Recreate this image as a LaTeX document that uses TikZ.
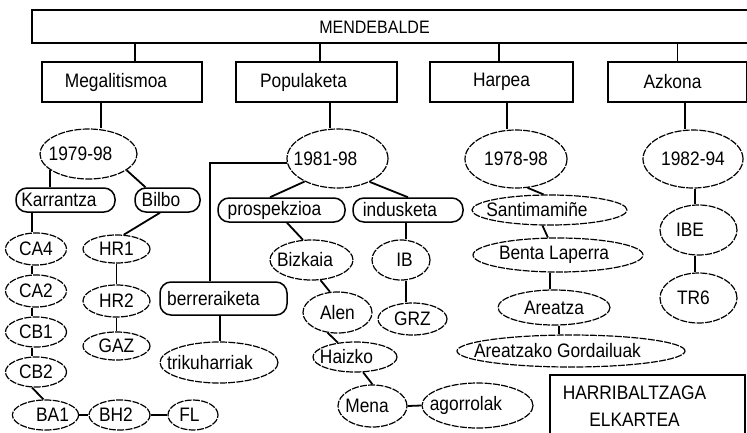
\documentclass[tikz,border=0pt]{standalone}
\usepackage{fontspec}
\setmainfont{Liberation Sans}[FakeStretch=0.89]
\usetikzlibrary{shapes.geometric}
\begin{document}
\begin{tikzpicture}[x=1pt,y=-1pt,
  every node/.style={font=\fontsize{19.5}{22}\selectfont, inner sep=0pt},
  bx/.style={draw, line width=1.5pt, rectangle},
  rbx/.style={draw, line width=1.5pt, rectangle, rounded corners=11pt},
  el/.style={draw, ellipse, line width=1.2pt, dash pattern=on 7pt off 1.3pt},
  ln/.style={line width=1.8pt}]
\useasboundingbox (0,0) rectangle (747,432);
\clip (0,0) rectangle (747,432);
% top
\node[bx, minimum width=716pt, minimum height=33pt] (mend) at (390,26.5) {};
\node (mendtxt) at (374.5,27.5) {\fontsize{18}{20}\selectfont MENDEBALDE};
\node[bx, minimum width=160pt, minimum height=40pt] (meg) at (122,82) {\hspace*{-12pt}Megalitismoa};
\node[bx, minimum width=161pt, minimum height=40pt] (pop) at (316.5,82) {\hspace*{-26pt}Populaketa};
\node[bx, minimum width=143pt, minimum height=40pt] (har) at (501.5,82) {Harpea};
\node[bx, minimum width=139pt, minimum height=40pt] (azk) at (677.5,82) {\hspace*{-10pt}Azkona};
\draw[ln] ([xshift=13pt]meg.north) -- ([xshift=13pt]meg.north |- mend.south);
\draw[ln] ([xshift=3.5pt]pop.north) -- ([xshift=3.5pt]pop.north |- mend.south);
\draw[ln] ([xshift=-2.5pt]har.north) -- ([xshift=-2.5pt]har.north |- mend.south);
\draw[ln] (azk.north) -- (azk.north |- mend.south);
% year ellipses
\node[el, minimum width=97pt, minimum height=50pt] (e1) at (88.5,154) {\hspace*{-16pt}1979-98};
\node[el, minimum width=101pt, minimum height=59pt] (e2) at (337.5,158.5) {\hspace*{-24pt}1981-98};
\node[el, minimum width=102pt, minimum height=58pt] (e3) at (516,159) {1978-98};
\node[el, minimum width=100pt, minimum height=58pt] (e4) at (693,159) {1982-94};
\draw[ln] ([xshift=-21pt]meg.south) -- ([xshift=-21pt]meg.south |- e1.north);
\draw[ln] ([xshift=13.5pt]pop.south) -- ([xshift=13.5pt]pop.south |- e2.north);
\draw[ln] ([xshift=5.5pt]har.south) -- ([xshift=5.5pt]har.south |- e3.north);
\draw[ln] ([xshift=7.5pt]azk.south) -- ([xshift=7.5pt]azk.south |- e4.north);
% Megalitismoa branch
\node[rbx, minimum width=99pt, minimum height=24pt] (kar) at (65.5,200) {\hspace*{-13pt}Karrantza};
\node[rbx, minimum width=65pt, minimum height=24pt] (bil) at (167.5,200) {\hspace*{-13pt}Bilbo};
\draw[ln] (e1.202) -- (e1.202 |- kar.north);
\draw[ln] (e1.337) -- ([xshift=-22pt]bil.north);
\node[el, minimum width=61pt, minimum height=32pt] (ca4) at (36,249) {CA4};
\node[el, minimum width=61pt, minimum height=32pt] (ca2) at (36,291) {CA2};
\node[el, minimum width=61pt, minimum height=30pt] (cb1) at (36,332) {CB1};
\node[el, minimum width=61pt, minimum height=30pt] (cb2) at (36,372) {CB2};
\node[el, minimum width=60pt, minimum height=30pt] (ba1) at (45.5,415) {\hspace*{14pt}BA1};
\node[el, minimum width=61pt, minimum height=30pt] (bh2) at (119.5,415) {\hspace*{-7pt}BH2};
\node[el, minimum width=50pt, minimum height=30pt] (fl) at (193,415) {\hspace*{-7pt}FL};
\draw[ln] ([xshift=-33.5pt]kar.south) -- ([xshift=-33.5pt]kar.south |- ca4.north);
\draw[ln] ([xshift=-4pt]ca4.south) -- ([xshift=-4pt]ca4.south |- ca2.north);
\draw[ln] ([xshift=-4pt]ca2.south) -- ([xshift=-4pt]ca2.south |- cb1.north);
\draw[ln] ([xshift=-4pt]cb1.south) -- ([xshift=-4pt]cb1.south |- cb2.north);
\draw[ln] ([xshift=-4pt]cb2.south) -- ([xshift=-2pt]ba1.north);
\draw[ln] (ba1.east) -- (bh2.west);
\draw[ln] (bh2.east) -- (fl.west);
\node[el, minimum width=67pt, minimum height=28pt] (hr1) at (116.5,249) {HR1};
\node[el, minimum width=67pt, minimum height=32pt] (hr2) at (116.5,301) {HR2};
\node[el, minimum width=67pt, minimum height=28pt] (gaz) at (116.5,346) {GAZ};
\draw[ln] ([xshift=-7.5pt]bil.south) -- (hr1.63);
\draw[ln] (hr1.south) -- (hr2.north);
\draw[ln] (hr2.south) -- (gaz.north);
% Populaketa branch
\node[rbx, minimum width=127pt, minimum height=24pt] (pro) at (281.5,210) {\hspace*{-14pt}prospekzioa};
\node[rbx, minimum width=110pt, minimum height=24pt] (ind) at (408,210) {\hspace*{-16pt}indusketa};
\node[rbx, minimum width=127pt, minimum height=33pt] (ber) at (223.5,298.5) {\hspace*{-20pt}berreraiketa};
\node[el, minimum width=118pt, minimum height=41pt] (tri) at (219,362.5) {\hspace*{-18pt}trikuharriak};
\draw[ln] (e2.215) -- ([xshift=-11.5pt]pro.north);
\draw[ln] (e2.324) -- (ind.north);
\draw[ln] (e2.185) -| ([xshift=-13.5pt]ber.north);
\draw[ln] ([xshift=-3.5pt]ber.south) -- ([xshift=-3.5pt]ber.south |- tri.north);
\node[el, minimum width=83pt, minimum height=40pt] (biz) at (311.5,260) {\hspace*{-13pt}Bizkaia};
\node[el, minimum width=58pt, minimum height=40pt] (ib) at (401,260) {\hspace*{7pt}IB};
\node[el, minimum width=69pt, minimum height=32pt] (grz) at (412.5,319) {GRZ};
\node[el, minimum width=69pt, minimum height=41pt] (alen) at (337.5,312.5) {Alen};
\node[el, minimum width=84pt, minimum height=30pt] (haiz) at (355,357) {\hspace*{-17pt}Haizko};
\node[el, minimum width=69pt, minimum height=42pt] (mena) at (372.5,406) {\hspace*{-11pt}Mena};
\node[el, minimum width=111pt, minimum height=45pt] (agor) at (477.5,405.5) {\hspace*{-23pt}agorrolak};
\draw[ln] ([xshift=5.5pt]pro.south) -- (biz.113);
\draw[ln] ([xshift=-2pt]ind.south) -- ([xshift=-2pt]ind.south |- ib.north);
\draw[ln] ([xshift=5pt]ib.south) -- ([xshift=5pt]ib.south |- grz.north);
\draw[ln] (biz.294) -- (alen.110);
\draw[ln] (alen.244) -- (haiz.140);
\draw[ln] (haiz.298) -- (mena.north);
\draw[ln] (mena.east) -- (agor.west);
% Harpea branch
\node[el, minimum width=155pt, minimum height=30pt] (santi) at (549.5,210) {\hspace*{-25pt}Santimamiñe};
\node[el, minimum width=170pt, minimum height=34pt] (benta) at (558,255) {\hspace*{-8pt}Benta Laperra};
\node[el, minimum width=112pt, minimum height=35pt] (are) at (554,307.5) {Areatza};
\node[el, minimum width=228pt, minimum height=32pt] (gord) at (571,351) {\hspace*{-27pt}Areatzako Gordailuak};
\draw[ln] (e3.292) -- ([xshift=-6pt]santi.north);
\draw[ln] ([xshift=-7pt]santi.south) -- (benta.120);
\draw[ln] ([xshift=-8pt]benta.south) -- ([xshift=-8pt]benta.south |- are.north);
\draw[ln] ([xshift=5pt]are.south) -- ([xshift=5pt]are.south |- gord.north);
% Azkona branch
\node[el, minimum width=77pt, minimum height=50pt] (ibe) at (698.5,230) {\hspace*{-17pt}IBE};
\node[el, minimum width=77pt, minimum height=50pt] (tr6) at (698.5,298) {\hspace*{-10pt}TR6};
\draw[ln] ([xshift=2pt]e4.south) -- ([xshift=2pt]e4.south |- ibe.north);
\draw[ln] ([xshift=-3.5pt]ibe.south) -- ([xshift=-3.5pt]ibe.south |- tr6.north);
% association box
\node[bx, minimum width=195pt, minimum height=70pt] (harri) at (647.5,410) {};
\node[align=center, font=\fontsize{19.5}{27}\selectfont] (harritxt) at (634.5,406.5) {HARRIBALTZAGA\\ELKARTEA};
\end{tikzpicture}
\end{document}
